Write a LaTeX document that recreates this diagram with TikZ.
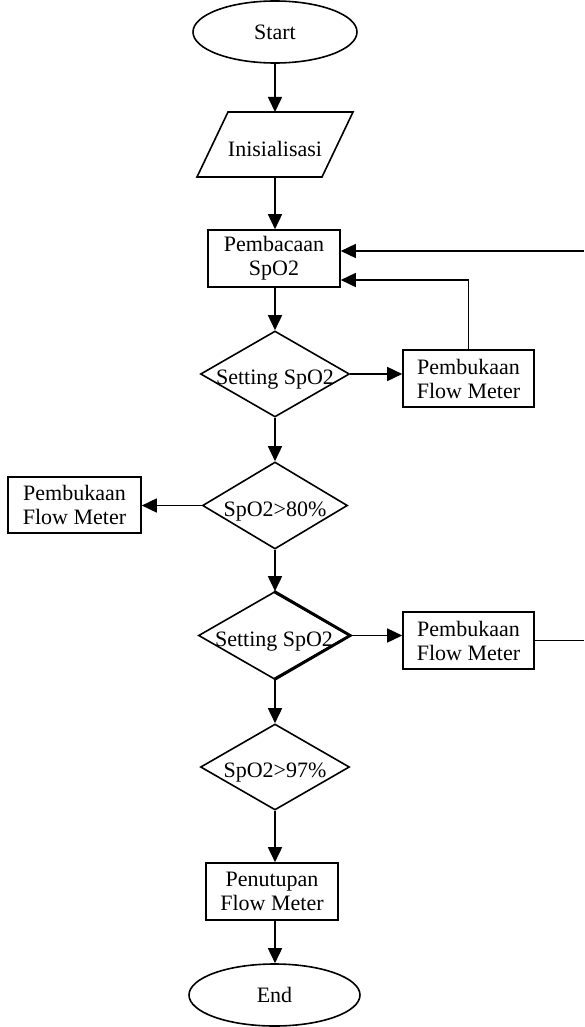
\documentclass[tikz,border=0pt]{standalone}
\usepackage{fontspec}
\setmainfont{Liberation Serif}
\usetikzlibrary{shapes.geometric,arrows.meta}
\begin{document}
\begin{tikzpicture}[x=1pt,y=-1pt,
  every node/.style={font=\fontsize{22}{24}\selectfont, inner sep=0pt, align=center},
  base/.style={draw, line width=1.6pt},
  term/.style={base, ellipse, minimum width=164pt, minimum height=62pt},
  proc/.style={base, rectangle, minimum width=132pt, minimum height=57pt},
  dec/.style={base, diamond, minimum width=149pt, minimum height=86pt},
  arr/.style={line width=1.6pt, -{Triangle[length=15pt,width=14pt]}},
  ln/.style={line width=1.6pt}
]
\useasboundingbox (0,0) rectangle (584,1027);

% nodes
\node[term] (start) at (275,32) {Start};
\node[minimum width=125pt, minimum height=65pt] (init) at (275,144.5) {};
\draw[line width=1.6pt] (228,112) -- (353,112) -- (322,177) -- (197,177) -- cycle;
\node (initt) at (275,149) {Inisialisasi};
\node[proc] (pb) at (274,258.5) {Pembacaan\\SpO2};
\node[dec] (d1) at (275,374) {};
\node (d1t) at ([yshift=-6pt]d1.center) {Setting SpO2};
\node[proc, minimum width=131pt] (f1) at (468.5,378.5) {Pembukaan\\Flow Meter};
\node[dec, minimum width=145pt, minimum height=87pt] (d2) at (275,505.5) {};
\node (d2t) at ([yshift=-6pt]d2.center) {SpO2>80\%};
\node[proc, minimum width=133pt, minimum height=56pt] (f2) at (74.5,505) {Pembukaan\\Flow Meter};
\node[dec, minimum width=151pt, minimum height=87pt] (d3) at (274,635.5) {};
\draw[line width=2.8pt, line join=miter] (d3.north) -- (d3.east) -- (d3.south);
\node (d3t) at ([yshift=-6pt]d3.center) {Setting SpO2};
\node[proc, minimum width=131pt] (f3) at (468.5,640.5) {Pembukaan\\Flow Meter};
\node[dec, minimum width=149pt, minimum height=86pt] (d4) at (275,767) {};
\node (d4t) at ([yshift=-6pt]d4.center) {SpO2>97\%};
\node[proc] (pt) at (272,891.5) {Penutupan\\Flow Meter};
\node[term, minimum width=171pt, minimum height=62pt] (end) at (274.5,995) {End};

\coordinate (rin) at (584,251);
\coordinate (rout) at (584,640.5);
\coordinate (back) at (f1.north |- 0,280);

% connectors
\draw[arr] (start.south) -- (275,112);
\draw[arr] (275,177) -- (pb.north -| 275,0);
\draw[arr] (pb.south -| 275,0) -- (d1.north);
\draw[arr] (d1.east) -- (f1.west |- d1.east);
\draw[arr] (f1.north) -- (back) -- (back -| pb.east);
\draw[arr] (rin) -- (rin -| pb.east);
\draw[arr] (d1.south) -- (d2.north);
\draw[arr] (d2.west) -- (f2.east |- d2.west);
\draw[arr] (d2.south) -- (d3.north -| 275,0);
\draw[arr] (d3.east) -- (f3.west |- d3.east);
\draw[ln] (f3.east) -- (rout);
\draw[arr] (d3.south -| 275,0) -- (d4.north);
\draw[arr] (d4.south) -- (pt.north -| 275,0);
\draw[arr] (pt.south -| 275,0) -- (end.north -| 275,0);
\end{tikzpicture}
\end{document}
